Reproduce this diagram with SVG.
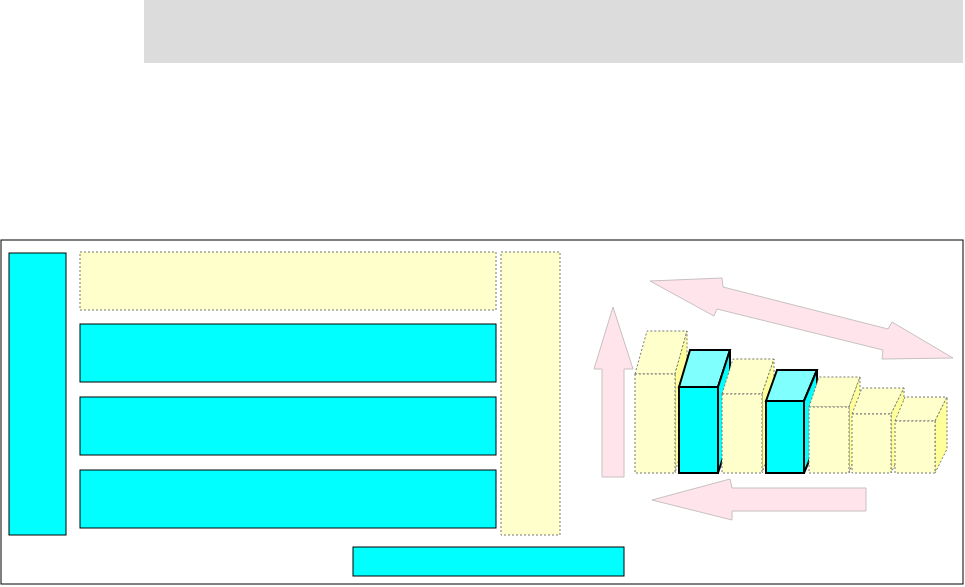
<svg xmlns="http://www.w3.org/2000/svg" width="965" height="587" viewBox="0 0 965 587">
<style>
.c{fill:#00ffff;stroke:#000;stroke-width:1}
.y{fill:#ffffcc;stroke:#777;stroke-width:1;stroke-dasharray:2,2}
.ar{fill:#ffe4ec;stroke:#c8c0c0;stroke-width:1}
.bc{stroke:#000;stroke-width:2}
</style>
<rect x="144" y="0" width="819" height="63" fill="#dcdcdc"/>
<rect id="frame" x="1" y="240" width="962" height="344" fill="#fff" stroke="#000"/>
<g id="left"><rect class="c" x="9" y="253" width="57" height="282"/></g>
<g id="row1"><rect class="y" x="80" y="252" width="416" height="58"/></g>
<g id="row2"><rect class="c" x="80" y="324" width="416" height="58"/></g>
<g id="row3"><rect class="c" x="80" y="397" width="416" height="58"/></g>
<g id="row4"><rect class="c" x="80" y="470" width="416" height="58"/></g>
<g id="right"><rect class="y" x="501" y="252" width="59" height="283"/></g>
<g id="bottom"><rect class="c" x="353" y="547" width="271" height="29"/></g>
<g id="arrows">
<polygon class="ar" points="613,307 633,369 624,369 624,477 602,477 602,369 594,369"/>
<polygon class="ar" points="650,281 722,278 723,287 888,329 892,322 953,358 882,359 883,350 717,309 714,316"/>
<polygon class="ar" points="652,500 730,479 732,488 866,488 866,511 732,511 732,520"/>
</g>
<g id="bars">
<g id="b1"><polygon class="y" points="635,374 647,331 687,331 675,374" fill="#ffffcc"/><polygon class="y" points="675,374 687,331 687,430 675,473" style="fill:#ffff99"/><rect class="y" x="635" y="374" width="40" height="99"/></g>
<g id="b2"><polygon class="c bc" points="679,387 690,350 730,350 718,387" style="fill:#80ffff"/><polygon class="c bc" points="718,387 730,350 730,436 718,473"/><rect class="c bc" x="679" y="387" width="39" height="86"/></g>
<g id="b3"><polygon class="y" points="722,394 733,359 774,359 762,394"/><polygon class="y" points="762,394 774,359 774,438 762,473" style="fill:#ffff99"/><rect class="y" x="722" y="394" width="40" height="79"/></g>
<g id="b4"><polygon class="c bc" points="766,401 777,370 817,370 804,401" style="fill:#80ffff"/><polygon class="c bc" points="804,401 817,370 817,442 804,473"/><rect class="c bc" x="766" y="401" width="38" height="72"/></g>
<g id="b5"><polygon class="y" points="809,407 819,377 860,377 849,407"/><polygon class="y" points="849,407 860,377 860,443 849,473" style="fill:#ffff99"/><rect class="y" x="809" y="407" width="40" height="66"/></g>
<g id="b6"><polygon class="y" points="852,414 862,388 904,388 891,414"/><polygon class="y" points="891,414 904,388 904,447 891,473" style="fill:#ffff99"/><rect class="y" x="852" y="414" width="39" height="59"/></g>
<g id="b7"><polygon class="y" points="895,421 905,397 947,397 935,421"/><polygon class="y" points="935,421 947,397 947,449 935,473" style="fill:#ffff99"/><rect class="y" x="895" y="421" width="40" height="52"/></g>
</g>
</svg>
